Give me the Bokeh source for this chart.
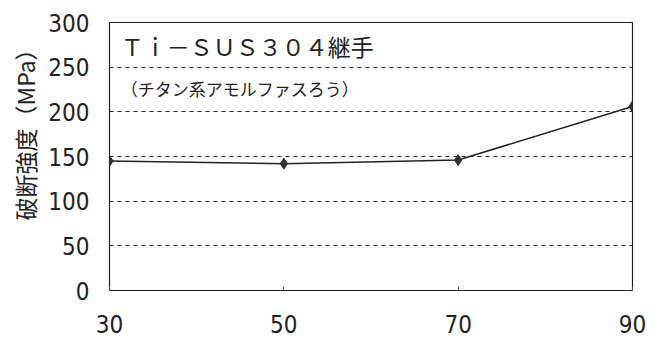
from bokeh.plotting import figure
from bokeh.models import Range1d, FixedTicker, Label, Title
from bokeh.embed import file_html
from bokeh.resources import INLINE

# brazing temperature offset (x) and joint fracture strength (MPa)
x_vals = [30, 50, 70, 90]
strength = [145, 142, 146, 206]
x_ticks = [30, 50, 70, 90]
y_ticks = [0, 50, 100, 150, 200, 250, 300]

title_text = "Ｔｉ－ＳＵＳ３０４継手"
sub_text = "（チタン系アモルファスろう）"
y_label = "破断強度（MPa）"

NARROW = "DejaVu Sans Condensed"
CJK = "Noto Sans CJK JP"

p = figure(width=660, height=345, output_backend="svg", toolbar_location=None,
           x_range=Range1d(30, 90), y_range=Range1d(0, 300),
           min_border_left=109, min_border_right=28,
           min_border_top=22, min_border_bottom=55)

p.background_fill_color = "white"
p.border_fill_color = "white"
p.outline_line_color = "#222222"
p.outline_line_width = 1.2

# axes: labels only, frame outline acts as the axis lines
for ax in (p.xaxis, p.yaxis):
    ax.axis_line_color = None
    ax.minor_tick_line_color = None
    ax.major_label_text_font = NARROW
    ax.major_label_text_font_size = "24px"
    ax.major_label_text_color = "#222222"

p.xaxis.ticker = FixedTicker(ticks=x_ticks)
p.xaxis.major_tick_in = 4
p.xaxis.major_tick_out = 0
p.xaxis.major_tick_line_color = "#555555"
p.xaxis.major_label_standoff = 24

p.yaxis.ticker = FixedTicker(ticks=y_ticks)
p.yaxis.major_tick_line_color = None
p.yaxis.major_label_standoff = 14

p.xgrid.grid_line_color = None
p.ygrid.ticker = FixedTicker(ticks=y_ticks[1:-1])
p.ygrid.grid_line_color = "#222222"
p.ygrid.grid_line_dash = "4 4"
p.ygrid.grid_line_width = 1

p.line(x_vals, strength, line_color="#222222", line_width=1.5)
p.scatter(x_vals, strength, marker="diamond", size=11,
          fill_color="#333333", line_color="#333333")

p.add_layout(Label(x=31.3, y=274, text=title_text, text_font=CJK,
                   text_font_size="23px", text_color="#222222",
                   text_baseline="middle"))
p.add_layout(Label(x=31.3, y=226, text=sub_text, text_font=CJK,
                   text_font_size="17px", text_color="#222222",
                   text_baseline="middle"))

# vertical axis title, anchored at its start and lifted off the bottom
p.add_layout(Title(text=y_label, align="left", offset=70, standoff=8,
                   text_font=CJK, text_font_size="23px",
                   text_font_style="normal", text_color="#222222"), "left")

open("out.html", "w").write(file_html(p, INLINE))
